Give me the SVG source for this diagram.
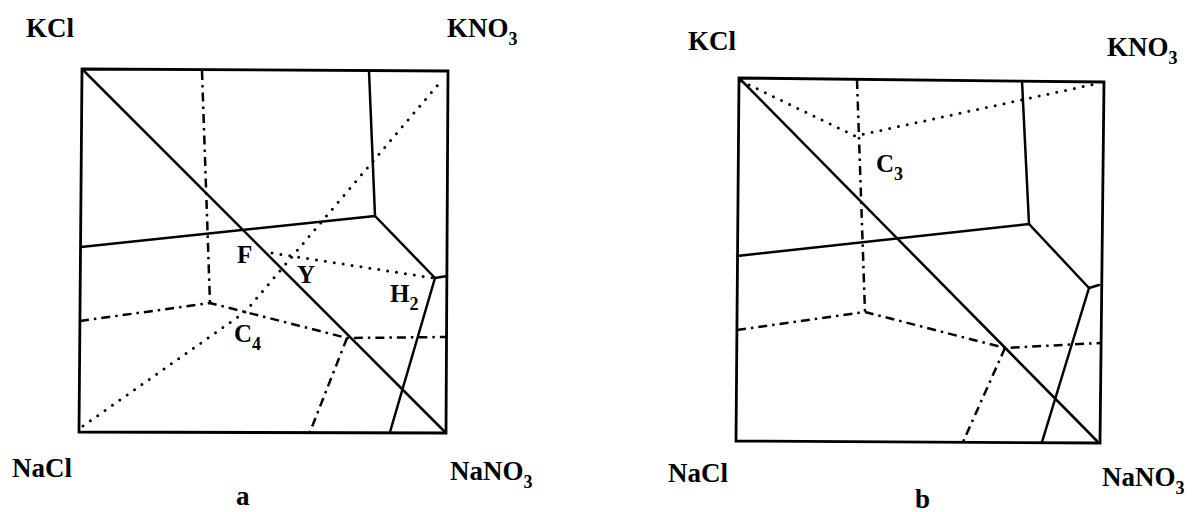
<svg xmlns="http://www.w3.org/2000/svg" width="1193" height="512" viewBox="0 0 1193 512">
<style>
.bg{fill:#fff}
.box{fill:none;stroke:#000;stroke-width:2.8;stroke-linejoin:miter}
.s{fill:none;stroke:#000;stroke-width:2.5;stroke-linecap:round;stroke-linejoin:round}
.dd{fill:none;stroke:#000;stroke-width:2.5;stroke-dasharray:9 5 2.5 5;stroke-linejoin:round}
.dot{fill:none;stroke:#000;stroke-width:3;stroke-linecap:round;stroke-dasharray:0 9}
.lab{font-family:"Liberation Serif","Times New Roman",serif;font-weight:bold;fill:#000}
.big{font-size:27px}
.sm{font-size:25px}
.sub{font-size:18px}
</style>
<rect class="bg" x="0" y="0" width="1193" height="512"/>
<g id="panel-a">
  <polygon class="box" points="82,69 448,71 446,433 79,432"/>
  <g id="lines-a">
    <line class="s" x1="83" y1="70" x2="445" y2="432"/>
    <polyline class="s" points="369,71 375,216"/>
    <polyline class="s" points="81,247 375,216 435,278 447,276"/>
    <polyline class="s" points="435,278 390,432"/>
    <polyline class="dd" points="202,71 210,303"/>
    <polyline class="dd" points="80,321 210,303 347,338 447,337"/>
    <polyline class="dd" points="347,338 310,432"/>
    <polyline class="dot" points="83,426 245,312 442,80"/>
    <polyline class="dot" points="272,253 433,278"/>
  </g>
  <g id="labels-a">
    <text class="lab big" x="26" y="37">KCl</text>
    <text class="lab big" x="447" y="37">KNO<tspan class="sub" dy="8">3</tspan></text>
    <text class="lab big" x="12" y="477">NaCl</text>
    <text class="lab big" x="450" y="480">NaNO<tspan class="sub" dy="8">3</tspan></text>
    <text class="lab big" x="236" y="505">a</text>
    <text class="lab sm" x="237" y="263">F</text>
    <text class="lab sm" x="297" y="283">Y</text>
    <text class="lab sm" x="390" y="302">H<tspan class="sub" dy="8">2</tspan></text>
    <text class="lab sm" x="234" y="342">C<tspan class="sub" dy="8">4</tspan></text>
  </g>
</g>
<g id="panel-b">
  <polygon class="box" points="739,78 1104,82 1100,443 736,441"/>
  <g id="lines-b">
    <line class="s" x1="740" y1="79" x2="1097" y2="441"/>
    <polyline class="s" points="1022,81 1029,224"/>
    <polyline class="s" points="737,256 1029,224 1089,288 1099,285"/>
    <polyline class="s" points="1089,288 1042,442"/>
    <polyline class="dd" points="857,80 865,312"/>
    <polyline class="dd" points="737,330 865,312 1005,348 1100,343"/>
    <polyline class="dd" points="1005,348 963,442"/>
    <polyline class="dot" points="741,81 855,136 1095,84"/>
  </g>
  <g id="labels-b">
    <text class="lab big" x="688" y="50">KCl</text>
    <text class="lab big" x="1107" y="56">KNO<tspan class="sub" dy="8">3</tspan></text>
    <text class="lab big" x="668" y="482">NaCl</text>
    <text class="lab big" x="1102" y="486">NaNO<tspan class="sub" dy="8">3</tspan></text>
    <text class="lab big" x="915" y="508">b</text>
    <text class="lab sm" x="876" y="172">C<tspan class="sub" dy="8">3</tspan></text>
  </g>
</g>
</svg>
